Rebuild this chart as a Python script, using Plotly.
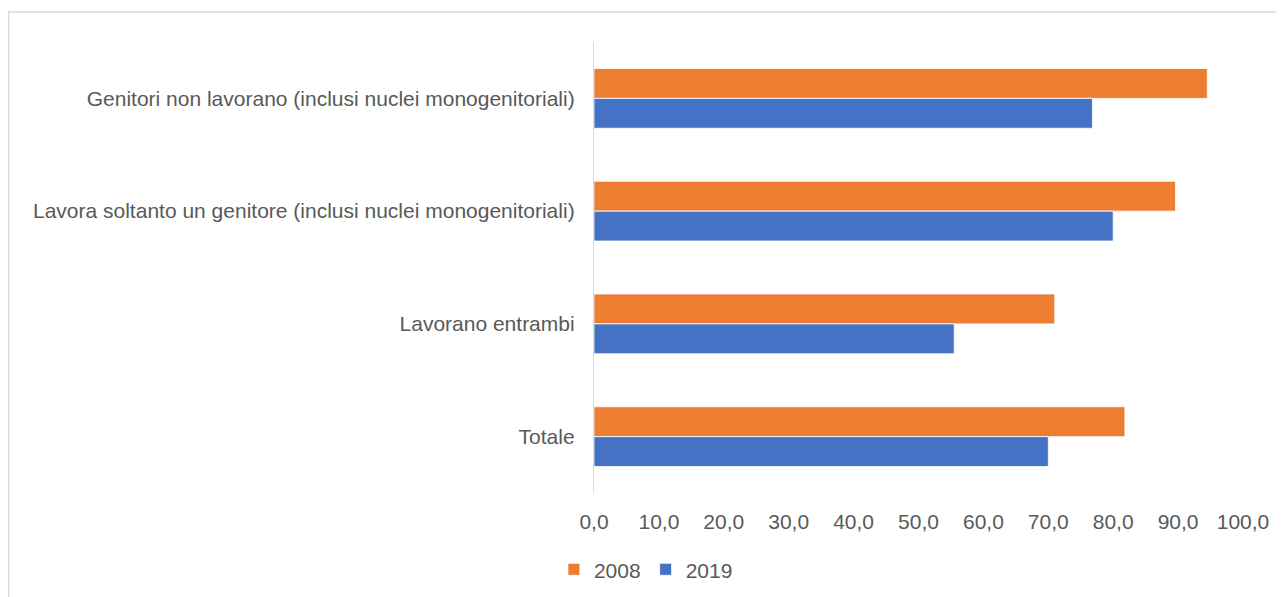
import plotly.graph_objects as go

# categories top to bottom
categories = [
    "Genitori non lavorano (inclusi nuclei monogenitoriali)",
    "Lavora soltanto un genitore (inclusi nuclei monogenitoriali)",
    "Lavorano entrambi",
    "Totale",
]
values_2008 = [94.5, 89.6, 71.0, 81.8]
values_2019 = [76.8, 80.0, 55.5, 70.0]
x_ticks = list(range(0, 101, 10))
x_tick_labels = [f"{v},0" for v in x_ticks]

FONT = "Liberation Sans, Arial, sans-serif"
GREY = "#595959"
FS = 21

fig = go.Figure()
fig.add_trace(go.Bar(
    y=categories, x=values_2008, name="2008", orientation="h",
    marker=dict(color="#ED7D31", line=dict(color="white", width=0.8)),
))
fig.add_trace(go.Bar(
    y=categories, x=values_2019, name="2019", orientation="h",
    marker=dict(color="#4472C4", line=dict(color="white", width=0.8)),
))

# light chart-area border
fig.add_shape(
    type="rect", xref="paper", yref="paper",
    x0=-0.902, x1=1.1, y0=-0.3, y1=1.0665,
    line=dict(color="#d9d9d9", width=1.3), fillcolor="rgba(0,0,0,0)",
    layer="below",
)

fig.update_layout(
    width=1284, height=597,
    margin=dict(l=586, r=49, t=34, b=112),
    paper_bgcolor="white", plot_bgcolor="white",
    barmode="group", bargap=0.47, bargroupgap=0,
    font=dict(family=FONT, size=FS, color=GREY),
    showlegend=True,
    legend=dict(
        orientation="h", x=0.08, xanchor="center", y=-0.17, yanchor="middle",
        font=dict(size=FS, color=GREY), itemwidth=30, tracegroupgap=0,
    ),
    xaxis=dict(
        range=[0, 100], tickvals=x_ticks, ticktext=x_tick_labels,
        showgrid=False, zeroline=False, showline=False,
        ticks="", ticklabelstandoff=14,
        tickfont=dict(size=FS, color=GREY),
    ),
    yaxis=dict(
        autorange="reversed", showgrid=False, zeroline=False,
        showline=True, linecolor="#d9d9d9", linewidth=1.3,
        ticks="", ticklabelstandoff=14,
        tickfont=dict(size=FS, color=GREY),
    ),
)

fig.write_html("out.html")
